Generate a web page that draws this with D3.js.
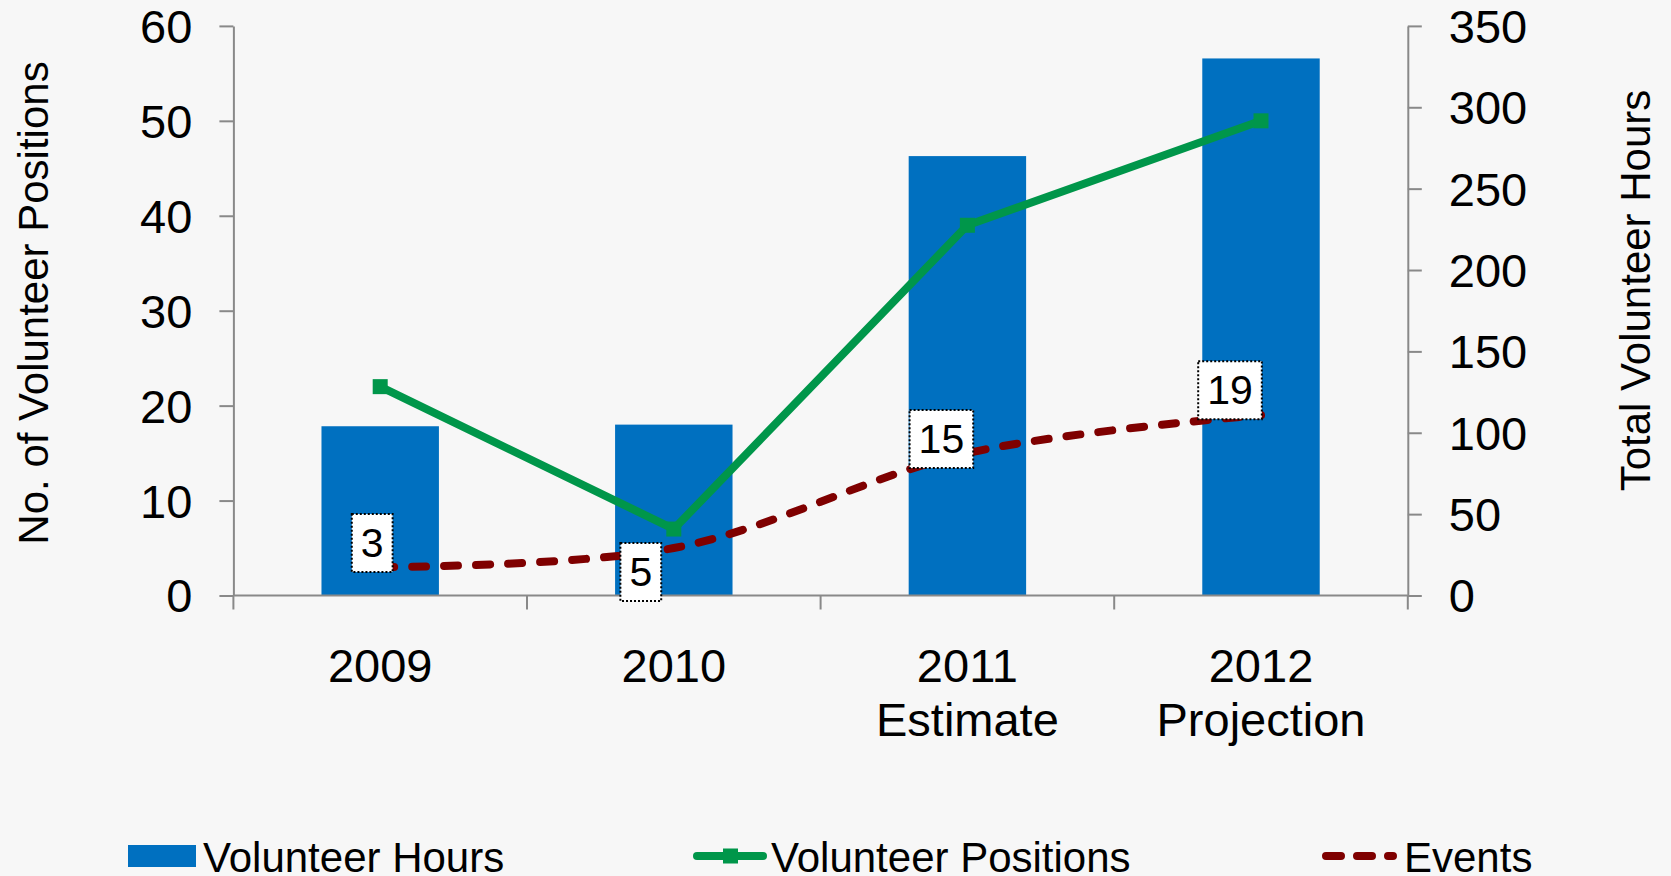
<!DOCTYPE html>
<html><head><meta charset="utf-8">
<script src="https://cdn.jsdelivr.net/npm/d3@7"></script>
<style>
html,body{margin:0;padding:0;background:#f7f7f7;overflow:hidden}
text{font-family:"Liberation Sans",Arial,sans-serif;fill:#000}
</style></head><body>
<svg id="chart" width="1671" height="876"></svg>
<script>
// ---- data ----
const categories = ["2009", "2010", "2011", "2012"];
const categorySubLabels = ["", "", "Estimate", "Projection"];
const volunteerHours = [104, 105, 270, 330];
const volunteerPositions = [22, 7, 39, 50];
const events = [3, 5, 15, 19];
const leftTicks = [0, 10, 20, 30, 40, 50, 60];
const rightTicks = [0, 50, 100, 150, 200, 250, 300, 350];
const seriesNames = ["Volunteer Hours", "Volunteer Positions", "Events"];
// label placement offsets (layout, px) relative to each Events point
const eventLabelOffsets = [[-8, -24], [-33, 24], [-26, -14], [-31, -25]];

// ---- layout ----
const W = 1671, H = 876;
const FONT = "Liberation Sans, Arial, sans-serif";
const plot = {left: 233.4, right: 1407.8, top: 25.9, bottom: 595.5};
const colors = {bar: "#0070c0", green: "#00964a", red: "#7f0000", axis: "#898989", bg: "#f7f7f7"};

const svg = d3.select("#chart");
svg.append("rect").attr("width", W).attr("height", H).attr("fill", colors.bg);

const x = d3.scaleBand().domain(categories).range([plot.left, plot.right]).padding(0);
const yL = d3.scaleLinear().domain([0, 60]).range([plot.bottom, plot.top]);
const yR = d3.scaleLinear().domain([0, 350]).range([plot.bottom, plot.top]);
const cx = c => x(c) + x.bandwidth() / 2;
const barW = x.bandwidth() * 0.4;

// bars
svg.append("g").selectAll("rect").data(volunteerHours).join("rect")
  .attr("x", (d, i) => cx(categories[i]) - barW / 2)
  .attr("y", d => yR(d))
  .attr("width", barW)
  .attr("height", d => yR(0) - yR(d))
  .attr("fill", colors.bar);

// left axis
const gL = svg.append("g").attr("transform", `translate(${plot.left},0)`)
  .call(d3.axisLeft(yL).tickValues(leftTicks).tickSize(14).tickSizeOuter(0).tickPadding(27));
// right axis
const gR = svg.append("g").attr("transform", `translate(${plot.right},0)`)
  .call(d3.axisRight(yR).tickValues(rightTicks).tickSize(14).tickSizeOuter(0).tickPadding(27));
[gL, gR].forEach(g => {
  g.attr("font-family", FONT).attr("font-size", 47);
  g.select(".domain").attr("stroke", colors.axis).attr("stroke-width", 2);
  g.selectAll(".tick line").attr("stroke", colors.axis).attr("stroke-width", 2);
  g.selectAll(".tick text").attr("fill", "#000").attr("dy", "0.35em");
});

// x axis
const gX = svg.append("g");
gX.append("line").attr("x1", plot.left).attr("x2", plot.right)
  .attr("y1", yL(0)).attr("y2", yL(0)).attr("stroke", colors.axis).attr("stroke-width", 2);
const boundaries = categories.map(c => x(c)).concat([x.range()[1]]);
gX.selectAll("line.tk").data(boundaries).join("line").attr("class", "tk")
  .attr("x1", d => d).attr("x2", d => d)
  .attr("y1", yL(0)).attr("y2", yL(0) + 14)
  .attr("stroke", colors.axis).attr("stroke-width", 2);
const catText = gX.selectAll("text.cat").data(categories).join("text").attr("class", "cat")
  .attr("text-anchor", "middle").attr("font-size", 47).attr("font-family", FONT)
  .attr("x", d => cx(d)).attr("y", 682);
catText.append("tspan").text(d => d);
catText.append("tspan").attr("x", d => cx(d)).attr("dy", 54).text((d, i) => categorySubLabels[i]);

// green line
const lineStraight = d3.line().x((d, i) => cx(categories[i])).y(d => yL(d));
svg.append("path").datum(volunteerPositions).attr("d", lineStraight)
  .attr("fill", "none").attr("stroke", colors.green).attr("stroke-width", 8)
  .attr("stroke-linejoin", "round");
svg.append("g").selectAll("rect").data(volunteerPositions).join("rect")
  .attr("x", (d, i) => cx(categories[i]) - 7.5).attr("y", d => yL(d) - 7.5)
  .attr("width", 15).attr("height", 15).attr("fill", colors.green);

// red dashed smooth line
const lineSmooth = d3.line().x((d, i) => cx(categories[i])).y(d => yL(d)).curve(d3.curveCatmullRom.alpha(0.5));
svg.append("path").datum(events).attr("d", lineSmooth)
  .attr("fill", "none").attr("stroke", colors.red).attr("stroke-width", 8)
  .attr("stroke-linecap", "round").attr("stroke-dasharray", "14,18");

// data labels
const lab = svg.append("g").selectAll("g").data(events).join("g")
  .attr("transform", (d, i) => `translate(${cx(categories[i]) + eventLabelOffsets[i][0]},${yL(d) + eventLabelOffsets[i][1]})`);
const labRect = lab.append("rect").attr("fill", "#fff").attr("stroke", "#000")
  .attr("stroke-width", 2).attr("stroke-dasharray", "2,2");
const labText = lab.append("text").attr("text-anchor", "middle").attr("font-size", 41)
  .attr("font-family", FONT).attr("dy", "0.35em").text(d => d);
labText.each(function () {
  const w = this.getComputedTextLength() + 18;
  d3.select(this.parentNode).select("rect")
    .attr("x", -w / 2).attr("y", -29).attr("width", w).attr("height", 58);
});

// axis titles
svg.append("text").attr("transform", "translate(48,303) rotate(-90)")
  .attr("text-anchor", "middle").attr("font-size", 42).attr("font-family", FONT)
  .text("No. of Volunteer Positions");
svg.append("text").attr("transform", "translate(1650,290.5) rotate(-90)")
  .attr("text-anchor", "middle").attr("font-size", 42).attr("font-family", FONT)
  .text("Total Volunteer Hours");

// legend
const lg = svg.append("g").attr("font-family", FONT).attr("font-size", 42);
lg.append("rect").attr("x", 128).attr("y", 845).attr("width", 68).attr("height", 22).attr("fill", colors.bar);
lg.append("text").attr("x", 203).attr("y", 872).text(seriesNames[0]);
lg.append("line").attr("x1", 697).attr("x2", 763).attr("y1", 856).attr("y2", 856)
  .attr("stroke", colors.green).attr("stroke-width", 8).attr("stroke-linecap", "round");
lg.append("rect").attr("x", 723).attr("y", 848.5).attr("width", 15).attr("height", 15).attr("fill", colors.green);
lg.append("text").attr("x", 771).attr("y", 872).text(seriesNames[1]);
lg.append("line").attr("x1", 1326).attr("x2", 1393).attr("y1", 856).attr("y2", 856)
  .attr("stroke", colors.red).attr("stroke-width", 8).attr("stroke-linecap", "round")
  .attr("stroke-dasharray", "15,16");
lg.append("text").attr("x", 1404).attr("y", 872).text(seriesNames[2]);
</script>
</body></html>
